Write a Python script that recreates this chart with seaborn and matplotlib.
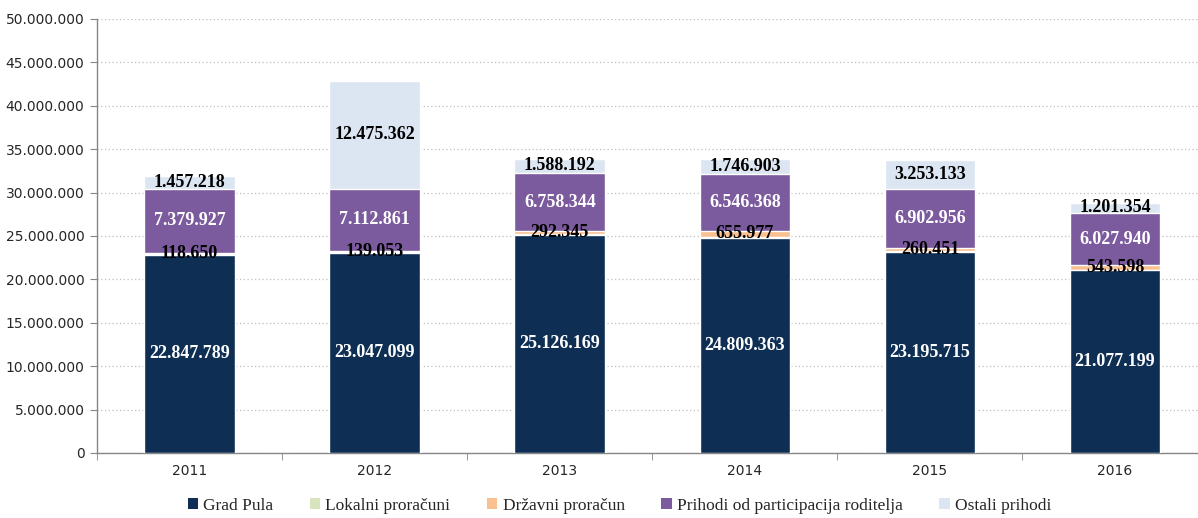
import numpy as np
import pandas as pd
import seaborn as sns
import matplotlib.pyplot as plt
from matplotlib.patches import Patch
from matplotlib.ticker import FuncFormatter, MultipleLocator, FixedLocator

years = ["2011", "2012", "2013", "2014", "2015", "2016"]
grad_pula = [22847789, 23047099, 25126169, 24809363, 23195715, 21077199]
lokalni = [110000, 100000, 110000, 100000, 100000, 0]
drzavni = [118650, 139053, 292345, 655977, 260451, 543598]
roditelji = [7379927, 7112861, 6758344, 6546368, 6902956, 6027940]
ostali = [1457218, 12475362, 1588192, 1746903, 3253133, 1201354]

series_names = ["Grad Pula", "Lokalni proračuni", "Državni proračun",
                "Prihodi od participacija roditelja", "Ostali prihodi"]
series_vals = [grad_pula, lokalni, drzavni, roditelji, ostali]
colors = ["#0E2F53", "#D7E4BD", "#FAC090", "#7B5A9E", "#DCE6F2"]
label_colors = ["white", None, "black", "white", "black"]

def dotfmt(v):
    return f"{int(round(v)):,}".replace(",", ".")

sns.set_style("white")
plt.rcParams['font.family'] = ['DejaVu Sans']

fig = plt.figure(figsize=(11.98, 5.18), dpi=100)
ax = fig.add_axes([0.081, 0.1255, 0.927, 0.838])

cum = np.cumsum(np.array(series_vals, dtype=float), axis=0)

# draw cumulative totals from top down so lower layers cover upper ones
for i in range(len(series_names) - 1, -1, -1):
    df = pd.DataFrame({"year": years, "value": cum[i]})
    sns.barplot(data=df, x="year", y="value", color=colors[i], width=0.49,
                saturation=1, ax=ax, errorbar=None, zorder=3)

# value labels
for i, name in enumerate(series_names):
    if label_colors[i] is None:
        continue
    for j, y in enumerate(years):
        v = series_vals[i][j]
        center = cum[i][j] - v / 2
        ax.text(j, center, dotfmt(v), ha="center", va="center",
                color=label_colors[i], fontsize=13, fontweight="bold",
                family=["Liberation Serif"], zorder=5)

ax.set_xlim(-0.5, 5.5)
ax.set_ylim(0, 50000000)
ax.yaxis.set_major_locator(MultipleLocator(5000000))
ax.yaxis.set_major_formatter(FuncFormatter(lambda v, p: dotfmt(v)))
ax.grid(axis="y", color="#BFBFBF", linestyle=(0, (1, 2)), linewidth=0.9, zorder=0)
ax.set_axisbelow(True)
ax.set_xlabel("")
ax.set_ylabel("")

for s in ["top", "right"]:
    ax.spines[s].set_visible(False)
for s in ["left", "bottom"]:
    ax.spines[s].set_color("#868686")
    ax.spines[s].set_linewidth(1)

ax.tick_params(axis="y", direction="out", length=5, color="#868686",
               labelsize=10, labelcolor="#262626", pad=4, left=True)
ax.tick_params(axis="x", which="major", length=0, labelsize=10,
               labelcolor="#262626", pad=8)
ax.xaxis.set_minor_locator(FixedLocator(np.arange(-0.5, 6, 1)))
ax.tick_params(axis="x", which="minor", direction="out", length=5,
               color="#868686", bottom=True)

handles = [Patch(facecolor=c, edgecolor="none") for c in colors]
leg = fig.legend(handles, series_names, loc="lower center", ncol=5,
                 bbox_to_anchor=(0.517, -0.022), frameon=False,
                 handlelength=0.6, handleheight=0.6, handletextpad=0.3,
                 columnspacing=2.1, prop={"family": "Liberation Serif", "size": 12.5})
for t in leg.get_texts():
    t.set_color("#262626")

plt.savefig("out.png", dpi=100)
